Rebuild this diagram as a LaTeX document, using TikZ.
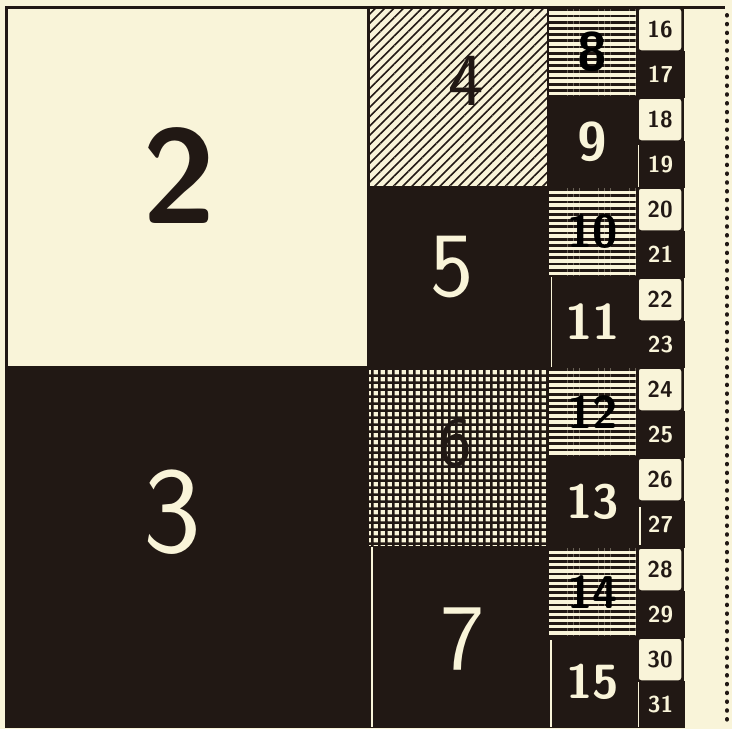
\documentclass[tikz,border=0pt]{standalone}
\usetikzlibrary{patterns.meta}
\definecolor{paper}{HTML}{F9F4D9}
\definecolor{ink}{HTML}{211814}
\tikzset{cell/.style={draw=ink,line width=2pt,inner sep=0pt,outer sep=0pt},
 bigcell/.style={minimum width=362,minimum height=360},
 midcell/.style={minimum width=180,minimum height=180},
 smallcell/.style={minimum width=89,minimum height=90},
 tinycell/.style={minimum width=47,minimum height=45},
 darkfill/.style={fill=ink,text=paper},
 ruled/.style={pattern={Lines[angle=0,distance=6.2pt,line width=2.7pt]},pattern color=ink},
 slanted/.style={pattern={Lines[angle=45,distance=6.6pt,line width=1.6pt]},pattern color=ink},
 checked/.style={pattern={Hatch[angle=0,distance=6.9pt,line width=2.4pt]},pattern color=ink},
 num/.style={inner sep=0pt,font=\sffamily\fontsize{#1}{#1}\selectfont},
 boldnum/.style={inner sep=0pt,font=\sffamily\bfseries\fontsize{#1}{#1}\selectfont},
 tinynum/.style={font=\sffamily\bfseries\fontsize{23}{23}\selectfont},
 paperbox/.style={cell,fill=paper,text=ink,rounded corners=3pt,line width=1.5pt,minimum width=44,minimum height=43},
 gap/.style={draw=paper,line width=1.3pt},
 dotrule/.style={draw=ink,line width=4pt,line cap=round,dash pattern=on 0.6pt off 8.2pt}}
\begin{document}
\begin{tikzpicture}[x=1pt,y=-1pt]
\fill[paper] (0,0) rectangle (732,729);
\useasboundingbox (0,0) rectangle (732,729);
\fill[ink] (637,7) rectangle (684,727);
% halves
\node[cell,bigcell,fill=paper,line width=3pt] (two) at (187,187) {};
\node[cell,bigcell,darkfill] (three) at (187,547) {};
% quarters
\node[cell,midcell,slanted] (four) at (458,97) {};
\node[cell,midcell,darkfill] (five) at (458,277) {};
\node[cell,midcell,checked] (six) at (458,457) {};
\node[cell,midcell,darkfill] (seven) at (458,637) {};
\node[boldnum=134,text=ink] (n2) at ([shift={(-8,-11)}]two.center) {2};
\node[num=123,text=paper] (n3) at ([shift={(-15,-35)}]three.center) {3};
\node[num=75,text=ink] (n4) at ([shift={(8,-16)}]four.center) {4};
\node[num=92,text=paper] (n5) at ([shift={(-6,-10)}]five.center) {5};
\node[num=71,text=ink] (n6) at ([shift={(-3,-14)}]six.center) {6};
\node[num=94,text=paper] (n7) at ([shift={(5,2)}]seven.center) {7};
% eighths
\node[cell,smallcell,ruled,boldnum=54] (eight) at (592.5,52) {8};
\node[cell,smallcell,darkfill,boldnum=54] (nine) at (592.5,142) {9};
\node[cell,smallcell,ruled,boldnum=46] (ten) at (592.5,232) {10};
\node[cell,smallcell,darkfill,boldnum=50] (eleven) at (592.5,322) {11};
\node[cell,smallcell,ruled,boldnum=46] (twelve) at (592.5,412) {12};
\node[cell,smallcell,darkfill,boldnum=48] (thirteen) at (592.5,502) {13};
\node[cell,smallcell,ruled,boldnum=46] (fourteen) at (592.5,592) {14};
\node[cell,smallcell,darkfill,boldnum=48] (fifteen) at (592.5,682) {15};
% sixteenths
\node[paperbox,tinynum] (c16) at (660,29.5) {16};
\node[cell,tinycell,darkfill,tinynum] (c17) at (660.5,74.5) {17};
\node[paperbox,tinynum] (c18) at (660,119.5) {18};
\node[cell,tinycell,darkfill,tinynum] (c19) at (660.5,164.5) {19};
\node[paperbox,tinynum] (c20) at (660,209.5) {20};
\node[cell,tinycell,darkfill,tinynum] (c21) at (660.5,254.5) {21};
\node[paperbox,tinynum] (c22) at (660,299.5) {22};
\node[cell,tinycell,darkfill,tinynum] (c23) at (660.5,344.5) {23};
\node[paperbox,tinynum] (c24) at (660,389.5) {24};
\node[cell,tinycell,darkfill,tinynum] (c25) at (660.5,434.5) {25};
\node[paperbox,tinynum] (c26) at (660,479.5) {26};
\node[cell,tinycell,darkfill,tinynum] (c27) at (660.5,524.5) {27};
\node[paperbox,tinynum] (c28) at (660,569.5) {28};
\node[cell,tinycell,darkfill,tinynum] (c29) at (660.5,614.5) {29};
\node[paperbox,tinynum] (c30) at (660,659.5) {30};
\node[cell,tinycell,darkfill,tinynum] (c31) at (660.5,704.5) {31};
% light seams
\draw[gap] ([xshift=4]seven.north west) -- ([xshift=4]seven.south west);
\draw[gap] ([xshift=3.5]eleven.north west) -- ([xshift=3.5]eleven.south west);
\draw[gap] ([shift={(3,3)}]fifteen.north west) -- ([xshift=3]fifteen.south west);
\draw[gap] ([shift={(1.5,3)}]c19.north west) -- ([xshift=1.5]c19.south west);
\draw[gap] ([shift={(3,5)}]c27.north west) -- ([shift={(3,-2)}]c27.south west);
\draw[gap] ([xshift=1.5]c31.north west) -- ([xshift=1.5]c31.south west);
% top rule and dotted margin
\draw[draw=ink,line width=3pt] (two.north west) -- ++(719,0);
\draw[dotrule] (727,15) -- (727,727);
\end{tikzpicture}
\end{document}
